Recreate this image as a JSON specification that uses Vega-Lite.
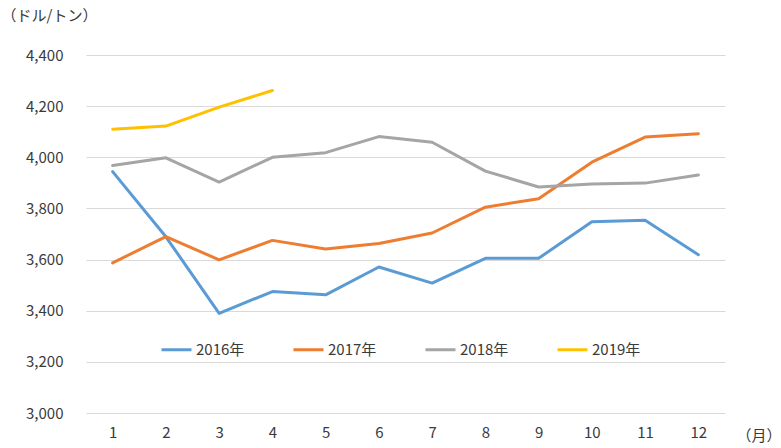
{
  "$schema": "https://vega.github.io/schema/vega-lite/v6.json",
  "width": 639,
  "height": 358,
  "autosize": {"type": "none"},
  "padding": {"left": 86, "top": 55, "right": 56, "bottom": 35},
  "background": "white",
  "config": {
    "view": {"stroke": null},
    "font": "Noto Sans CJK JP"
  },
  "data": {
    "values": [
      {"month": 1, "year": "2016年", "value": 3944},
      {"month": 2, "year": "2016年", "value": 3689},
      {"month": 3, "year": "2016年", "value": 3390},
      {"month": 4, "year": "2016年", "value": 3475},
      {"month": 5, "year": "2016年", "value": 3462},
      {"month": 6, "year": "2016年", "value": 3571},
      {"month": 7, "year": "2016年", "value": 3508},
      {"month": 8, "year": "2016年", "value": 3605},
      {"month": 9, "year": "2016年", "value": 3605},
      {"month": 10, "year": "2016年", "value": 3748},
      {"month": 11, "year": "2016年", "value": 3754},
      {"month": 12, "year": "2016年", "value": 3619},
      {"month": 1, "year": "2017年", "value": 3587},
      {"month": 2, "year": "2017年", "value": 3690},
      {"month": 3, "year": "2017年", "value": 3599},
      {"month": 4, "year": "2017年", "value": 3675},
      {"month": 5, "year": "2017年", "value": 3641},
      {"month": 6, "year": "2017年", "value": 3663},
      {"month": 7, "year": "2017年", "value": 3704},
      {"month": 8, "year": "2017年", "value": 3805},
      {"month": 9, "year": "2017年", "value": 3838},
      {"month": 10, "year": "2017年", "value": 3981},
      {"month": 11, "year": "2017年", "value": 4079},
      {"month": 12, "year": "2017年", "value": 4092},
      {"month": 1, "year": "2018年", "value": 3968},
      {"month": 2, "year": "2018年", "value": 3998},
      {"month": 3, "year": "2018年", "value": 3903},
      {"month": 4, "year": "2018年", "value": 4000},
      {"month": 5, "year": "2018年", "value": 4018},
      {"month": 6, "year": "2018年", "value": 4081},
      {"month": 7, "year": "2018年", "value": 4059},
      {"month": 8, "year": "2018年", "value": 3946},
      {"month": 9, "year": "2018年", "value": 3884},
      {"month": 10, "year": "2018年", "value": 3896},
      {"month": 11, "year": "2018年", "value": 3899},
      {"month": 12, "year": "2018年", "value": 3931},
      {"month": 1, "year": "2019年", "value": 4110},
      {"month": 2, "year": "2019年", "value": 4122},
      {"month": 3, "year": "2019年", "value": 4196},
      {"month": 4, "year": "2019年", "value": 4261}
    ]
  },
  "mark": {"type": "line", "strokeWidth": 3, "strokeCap": "round", "strokeJoin": "round"},
  "encoding": {
    "x": {
      "field": "month",
      "type": "ordinal",
      "scale": {"type": "point", "padding": 0.5},
      "axis": {
        "title": "（月）",
        "titleAngle": 0,
        "titleAlign": "right",
        "titleBaseline": "middle",
        "titleX": 695,
        "titleY": 22,
        "titleFontSize": 15,
        "titleFontWeight": "normal",
        "titleColor": "#3a3a3a",
        "labelAngle": 0,
        "labelFontSize": 15,
        "labelColor": "#3a3a3a",
        "labelPadding": 12,
        "ticks": false,
        "domain": false,
        "grid": false
      }
    },
    "y": {
      "field": "value",
      "type": "quantitative",
      "scale": {"domain": [3000, 4400], "zero": false, "nice": false},
      "axis": {
        "values": [3000, 3200, 3400, 3600, 3800, 4000, 4200, 4400],
        "format": ",.0f",
        "title": "（ドル/トン）",
        "titleAngle": 0,
        "titleAlign": "left",
        "titleBaseline": "middle",
        "titleX": -85,
        "titleY": -40,
        "titleFontSize": 15,
        "titleFontWeight": "normal",
        "titleColor": "#3a3a3a",
        "labelFontSize": 15,
        "labelColor": "#3a3a3a",
        "labelPadding": 23,
        "ticks": false,
        "domain": false,
        "grid": true,
        "gridColor": "#D9D9D9",
        "gridWidth": 1
      }
    },
    "color": {
      "field": "year",
      "type": "nominal",
      "scale": {
        "domain": ["2016年", "2017年", "2018年", "2019年"],
        "range": ["#5B9BD5", "#ED7D31", "#A5A5A5", "#FFC000"]
      },
      "legend": {
        "title": null,
        "orient": "none",
        "direction": "horizontal",
        "columns": 4,
        "legendX": 74,
        "legendY": 278,
        "symbolType": "stroke",
        "symbolSize": 900,
        "symbolStrokeWidth": 3,
        "labelFontSize": 15,
        "labelColor": "#3a3a3a",
        "labelOffset": 3,
        "columnPadding": 42,
        "gridAlign": "all"
      }
    }
  }
}
